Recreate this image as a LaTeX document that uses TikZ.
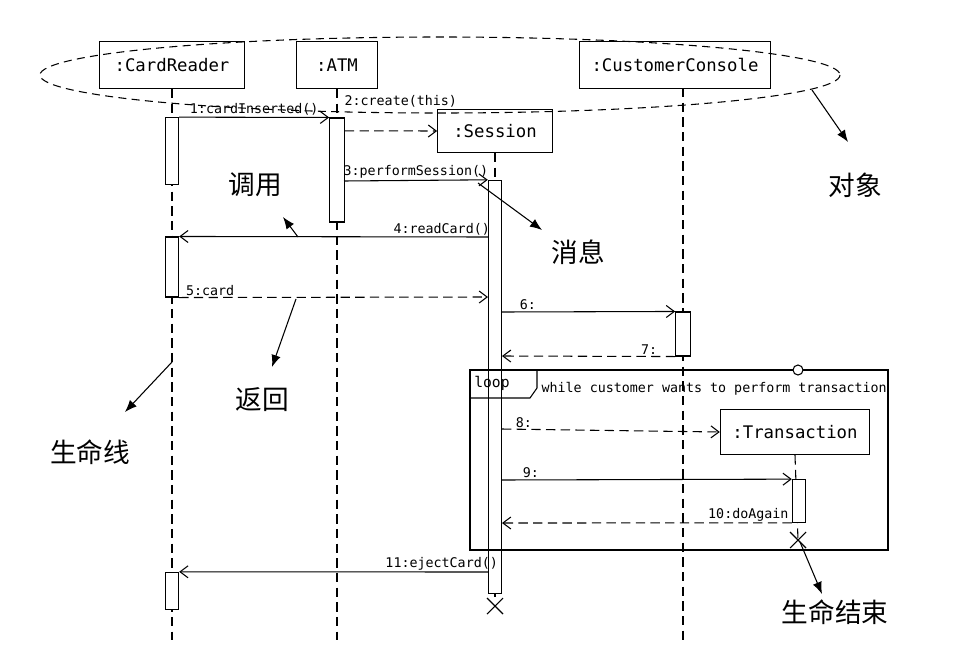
\documentclass[tikz,border=0pt]{standalone}
\usepackage{fontspec}
\setmainfont{DejaVu Sans Mono}
\newfontfamily\cjk{Noto Sans CJK SC}
\usetikzlibrary{arrows.meta}
\begin{document}
\begin{tikzpicture}[x=0.75pt, y=-0.75pt,
    obj/.style={draw, thick, inner sep=0pt, font=\fontsize{13}{15}\selectfont},
    act/.style={draw, thick, fill=white},
    life/.style={thick, dash pattern=on 7pt off 4pt},
    call/.style={thick, -{Straight Barb[length=6pt,width=9pt]}},
    ret/.style={thick, dash pattern=on 7pt off 4pt, -{Straight Barb[length=6pt,width=9pt]}},
    msg/.style={font=\fontsize{10}{12}\selectfont, inner sep=1pt},
    note/.style={font=\cjk\fontsize{20}{22}\selectfont},
    pointer/.style={thick, -{Latex[length=9pt,width=7pt]}}]
		\useasboundingbox (0,0) rectangle (957,650);

		% objects
		\node[obj, minimum width=109pt, minimum height=35pt] (cr) at (172, 65) {:CardReader};
		\node[obj, minimum width=61pt, minimum height=35pt] (atm) at (337, 65) {:ATM};
		\node[obj, minimum width=143pt, minimum height=35pt] (cc) at (675, 65) {:CustomerConsole};
		\node[obj, minimum width=86pt, minimum height=32pt] (ses) at (495, 131) {:Session};
		\node[obj, minimum width=112pt, minimum height=34pt] (tr) at (795, 432) {:Transaction};
		\draw[thick, dash pattern=on 6pt off 4pt] (440, 75) ellipse (400 and 38);

		% lifelines
		\draw[life] (cr.south) -- (172, 640);
		\draw[life] (atm.south) -- (337, 640);
		\draw[life] (683, 88) -- (683, 640);
		\draw[life] (ses.south) -- (495, 597);
		\draw[life] (tr.south) -- (798, 540);

		% activations
		\node[act, minimum width=10pt, minimum height=50pt, inner sep=0pt] (cr1) at (172, 151) {};
		\node[act, minimum width=10pt, minimum height=45pt, inner sep=0pt] (cr2) at (172, 267) {};
		\node[act, minimum width=10pt, minimum height=28pt, inner sep=0pt] (cr3) at (172, 591) {};
		\node[act, minimum width=11pt, minimum height=78pt, inner sep=0pt] (atm1) at (337, 170) {};
		\node[act, minimum width=10pt, minimum height=310pt, inner sep=0pt] (ses1) at (495, 387) {};
		\node[act, minimum width=11pt, minimum height=33pt, inner sep=0pt] (cc1) at (683, 334) {};
		\node[act, minimum width=10pt, minimum height=32pt, inner sep=0pt] (tr1) at (799, 501) {};

		% loop frame
		\draw[thick] (470, 370) rectangle (888, 550);
		\draw[thick] (470, 398) -- (530, 398) -- (537, 388) -- (537, 370);
		\node[font=\fontsize{11}{13}\selectfont, anchor=west, inner sep=0pt] (lp) at (474, 383) {loop};
		\node[msg, anchor=west] (guard) at (540, 389) {while customer wants to perform transaction};
		\draw[thick, fill=white] (798, 370) circle (5);

		% destroy marks
		\coordinate (x1) at (495, 606);
		\coordinate (x2) at (798, 540);
		\draw[thick] ([shift={(-8,-8)}]x1) -- ([shift={(8,8)}]x1) ([shift={(-8,8)}]x1) -- ([shift={(8,-8)}]x1);
		\draw[thick] ([shift={(-8,-8)}]x2) -- ([shift={(8,8)}]x2) ([shift={(-8,8)}]x2) -- ([shift={(8,-8)}]x2);

		% messages
		\draw[call] (cr1.north east) -- node[msg, above] {1:cardInserted()} (atm1.north west);
		\draw[ret] ([yshift=-10]atm1.north east) -- (ses.west);
		\node[msg, anchor=south west] (m2) at (343, 109) {2:create(this)};
		\draw[call] (344, 181) -- node[msg, above] {3:performSession()} (ses1.north west);
		\draw[call] (488, 237) -- node[msg, above, pos=0.15] {4:readCard()} (cr2.north east);
		\draw[ret] (cr2.south east) -- node[msg, above, pos=0.1] {5:card} (488, 297);
		\draw[call] (502, 312) -- node[msg, above, pos=0.15] {6:} (cc1.north west);
		\draw[ret] (cc1.south west) -- node[msg, above, pos=0.15] {7:} (502, 356);
		\draw[ret] (502, 429) -- node[msg, above, pos=0.1] {8:} (tr.west);
		\draw[call] (502, 480) -- node[msg, above, pos=0.1] {9:} (tr1.north west);
		\draw[ret] (tr1.south west) -- node[msg, above, pos=0.15] {10:doAgain} (502, 523);
		\draw[call] (488, 572) -- node[msg, above, pos=0.15] {11:ejectCard()} (cr3.north east);

		% annotations
		\node[note] (nobj) at (855, 185) {对象};
		\node[note] (ncall) at (255, 185) {调用};
		\node[note] (nmsg) at (578, 252) {消息};
		\node[note] (nret) at (262, 400) {返回};
		\node[note] (nlife) at (90, 452) {生命线};
		\node[note] (nend) at (835, 612) {生命结束};
		\coordinate (a1) at (812, 90);
		\coordinate (a2) at (298, 237);
		\coordinate (a3) at (478, 183);
		\coordinate (a4) at (296, 299);
		\coordinate (a5) at (172, 362);
		\coordinate (a6) at (800, 542);
		\draw[pointer] (a1) -- (848, 142);
		\draw[pointer] (a2) -- (283, 217);
		\draw[pointer] (a3) -- (542, 230);
		\draw[pointer] (a4) -- (272, 367);
		\draw[pointer] (a5) -- (125, 412);
		\draw[pointer] (a6) -- (822, 594);
\end{tikzpicture}
\end{document}
